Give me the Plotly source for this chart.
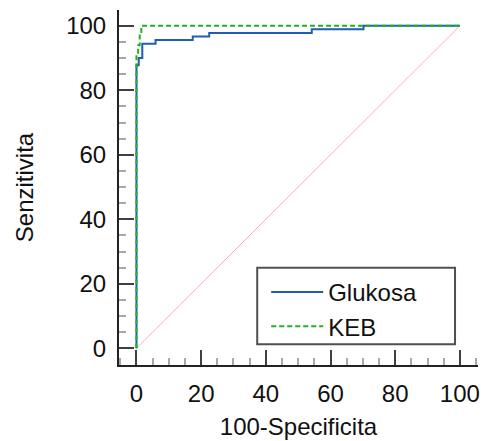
import plotly.graph_objects as go

# Glukosa ROC curve (100-Specificity, Sensitivity)
glu_x = [0, 0, 0.7, 0.7, 1.8, 1.8, 5.9, 5.9, 17.4, 17.4, 22.5, 22.5, 54.2, 54.2, 70.2, 70.2, 100]
glu_y = [0, 87.8, 87.8, 90.0, 90.0, 94.4, 94.4, 95.6, 95.6, 96.7, 96.7, 97.8, 97.8, 98.9, 98.9, 100, 100]

# KEB ROC curve
keb_x = [0, 0, 0.5, 0.5, 1.0, 1.0, 1.5, 1.5, 100]
keb_y = [0, 91, 91, 94, 94, 97, 97, 100, 100]

# reference diagonal
diag_x = [0, 100]
diag_y = [0, 100]

tick_vals = [0, 20, 40, 60, 80, 100]
tick_text = ["0", "20", "40", "60", "80", "100"]

FONT = "Liberation Sans, Arial, sans-serif"
FS = 24

fig = go.Figure()
fig.add_trace(go.Scatter(x=diag_x, y=diag_y, mode="lines",
                         line=dict(color="#F2B5B5", width=1), showlegend=False, hoverinfo="skip"))
fig.add_trace(go.Scatter(x=glu_x, y=glu_y, mode="lines", name="Glukosa",
                         line=dict(color="#1F5FAE", width=2)))
fig.add_trace(go.Scatter(x=keb_x, y=keb_y, mode="lines", name="KEB",
                         line=dict(color="#22B022", width=2, dash="5px,3px")))

axis_common = dict(
    tickvals=tick_vals, ticktext=tick_text,
    ticks="inside", ticklen=15, tickwidth=2, tickcolor="#404040",
    minor=dict(dtick=5, ticks="inside", ticklen=7, tickwidth=1.5, tickcolor="#A8A8A8"),
    showline=True, linecolor="#222222", linewidth=2,
    showgrid=False, zeroline=False,
    tickfont=dict(family=FONT, size=FS, color="#111111"),
    title_font=dict(family=FONT, size=FS, color="#111111"),
    ticklabelstandoff=6,
)

fig.update_xaxes(range=[-5.4, 105.6], title_text="100-Specificita", title_standoff=12, **axis_common)
fig.update_yaxes(range=[-5.2, 104.9], title_text="Senzitivita", title_standoff=26, **axis_common)

# legend frame
fig.add_shape(type="rect", xref="paper", yref="paper",
              x0=0.385, x1=0.936, y0=0.0587, y1=0.274,
              line=dict(color="#505050", width=2), fillcolor="white", layer="below")

fig.update_layout(
    width=485, height=441,
    margin=dict(l=119, r=5, t=10, b=73),
    plot_bgcolor="white", paper_bgcolor="white",
    font=dict(family=FONT, size=FS, color="#111111"),
    legend=dict(x=0.41, y=0.268, xanchor="left", yanchor="top",
                borderwidth=0, bgcolor="rgba(0,0,0,0)",
                font=dict(family=FONT, size=FS, color="#111111"),
                itemwidth=52, tracegroupgap=0),
)

fig.write_html("out.html")
